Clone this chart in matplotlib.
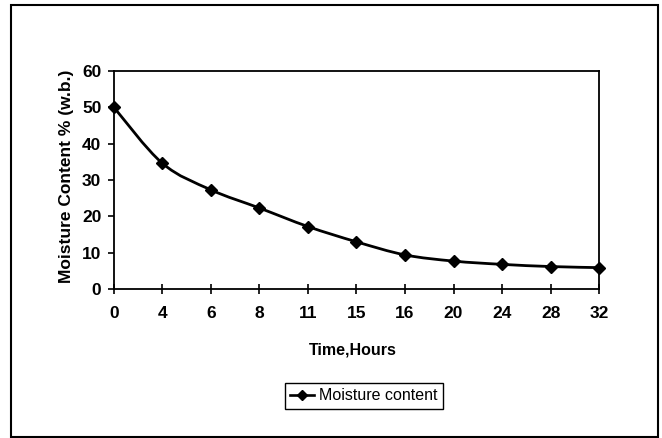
import numpy as np
import matplotlib
matplotlib.use("Agg")
import matplotlib.pyplot as plt
from matplotlib.path import Path
from matplotlib.patches import PathPatch, Rectangle
from matplotlib.lines import Line2D

plt.rcParams["font.family"] = ["Liberation Sans", "DejaVu Sans"]

# data
hours = ["0", "4", "6", "8", "11", "15", "16", "20", "24", "28", "32"]
moisture = [50.0, 34.6, 27.3, 22.3, 17.2, 13.0, 9.4, 7.7, 6.8, 6.2, 5.9]

fig = plt.figure(figsize=(6.62, 4.38), dpi=100)
ax = fig.add_axes([0.172, 0.340, 0.733, 0.498])

x = np.arange(len(hours), dtype=float)
y = np.array(moisture)

# smoothed line like Excel (cubic bezier through the points)
verts = [(x[0], y[0])]
codes = [Path.MOVETO]
n = len(x)
for i in range(n - 1):
    p0 = np.array([x[max(i - 1, 0)], y[max(i - 1, 0)]])
    p1 = np.array([x[i], y[i]])
    p2 = np.array([x[i + 1], y[i + 1]])
    p3 = np.array([x[min(i + 2, n - 1)], y[min(i + 2, n - 1)]])
    c1 = p1 + (p2 - p0) / 6.0
    c2 = p2 - (p3 - p1) / 6.0
    verts += [tuple(c1), tuple(c2), tuple(p2)]
    codes += [Path.CURVE4] * 3
curve = PathPatch(Path(verts, codes), facecolor="none", edgecolor="black",
                  linewidth=2.0, clip_on=False, zorder=3)
ax.add_patch(curve)
ax.plot(x, y, linestyle="none", marker="D", markersize=6.5, color="black",
        clip_on=False, zorder=4)

ax.set_xlim(0, n - 1)
ax.set_ylim(0, 60)
ax.set_xticks(x)
ax.set_xticklabels(hours)
ax.set_yticks(np.arange(0, 61, 10))

for s in ax.spines.values():
    s.set_color("black")
    s.set_linewidth(1.3)

ax.tick_params(axis="x", direction="inout", length=7, width=1.2, pad=9,
               labelsize=12.5)
ax.tick_params(axis="y", direction="out", length=4, width=1.2, pad=5,
               labelsize=12.5)
for lab in ax.get_xticklabels() + ax.get_yticklabels():
    lab.set_fontweight("bold")

ax.set_xlabel("Time,Hours", fontsize=11.5, fontweight="bold")
ax.xaxis.set_label_coords(0.493, -0.243)
ax.set_ylabel("Moisture Content % (w.b.)", fontsize=12.5, fontweight="bold")
ax.yaxis.set_label_coords(-0.082, 0.516)

# legend
handle = Line2D([], [], color="black", linewidth=1.9, marker="D", markersize=5)
leg = fig.legend([handle], ["Moisture content"], loc="center",
                 bbox_to_anchor=(0.55, 0.096), fontsize=11.5,
                 fancybox=False, framealpha=1, edgecolor="black",
                 handlelength=1.5, handletextpad=0.3, borderpad=0.35)
leg.get_frame().set_linewidth(1.0)

# outer chart border
fig.patches.append(Rectangle((0.0166, 0.003), 0.977, 0.985,
                             transform=fig.transFigure, fill=False,
                             edgecolor="black", linewidth=1.5))

fig.savefig("out.png", dpi=100)
